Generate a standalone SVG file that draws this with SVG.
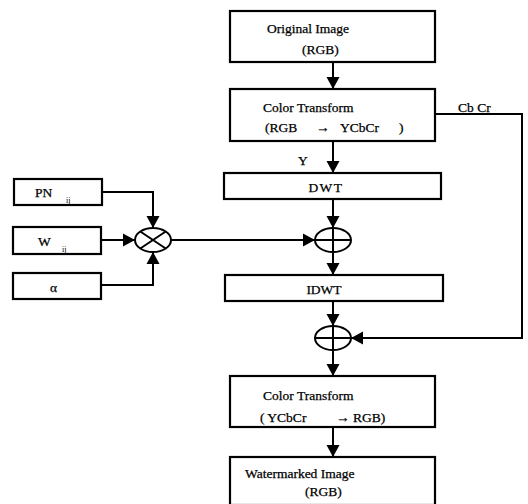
<svg xmlns="http://www.w3.org/2000/svg" width="528" height="504" viewBox="0 0 528 504">
<style>
.box{fill:#fff;stroke:#000;stroke-width:2.2}
.ln{fill:none;stroke:#000;stroke-width:2}
.op{fill:#fff;stroke:#000;stroke-width:2}
.t{font-family:"Liberation Serif","Times New Roman",serif;font-size:13.5px;fill:#000;stroke:#000;stroke-width:0.25}
.sub{font-family:"Liberation Serif","Times New Roman",serif;font-size:8px;fill:#000}
</style>
<defs>
<marker id="ah" markerWidth="14" markerHeight="14" refX="12" refY="7" orient="auto" markerUnits="userSpaceOnUse">
<path d="M0,0.5 L12,7 L0,13.5 z" fill="#000"/>
</marker>
</defs>
<rect width="528" height="504" fill="#fff"/>
<g id="connectors">
<path class="ln" d="M333,62 V89" marker-end="url(#ah)"/>
<path class="ln" d="M333,141 V173" marker-end="url(#ah)"/>
<path class="ln" d="M333,199 V228" marker-end="url(#ah)"/>
<path class="ln" d="M333,252 V275" marker-end="url(#ah)"/>
<path class="ln" d="M333,301 V326" marker-end="url(#ah)"/>
<path class="ln" d="M333,350 V376" marker-end="url(#ah)"/>
<path class="ln" d="M333,427 V457" marker-end="url(#ah)"/>
<path class="ln" d="M435,114 H522 V338 H351" marker-end="url(#ah)"/>
<path class="ln" d="M102,192 H153 V228" marker-end="url(#ah)"/>
<path class="ln" d="M101,240 H135" marker-end="url(#ah)"/>
<path class="ln" d="M101,285 H153 V252" marker-end="url(#ah)"/>
<path class="ln" d="M171,240 H315" marker-end="url(#ah)"/>
<text class="t" x="458" y="112">Cb Cr</text>
<text class="t" x="298" y="165">Y</text>
</g>
<g id="original">
<rect class="box" x="230" y="11" width="205" height="51"/>
<text class="t" x="267" y="33">Original  Image</text>
<text class="t" x="302" y="54">(RGB)</text>
</g>
<g id="ct1">
<rect class="box" x="230" y="89" width="205" height="52"/>
<text class="t" x="263" y="112">Color Transform</text>
<text class="t" x="265" y="132">(RGB</text>
<text class="t" x="316" y="132">→</text>
<text class="t" x="340" y="132">YCbCr</text>
<text class="t" x="399" y="132">)</text>
</g>
<g id="dwt">
<rect class="box" x="224" y="173" width="217" height="26"/>
<text class="t" x="326" y="192" text-anchor="middle" letter-spacing="1.5">DWT</text>
</g>
<g id="sum1">
<ellipse class="op" cx="333" cy="240" rx="18" ry="12"/>
<path class="ln" d="M315,240 H351 M333,228 V252"/>
</g>
<g id="idwt">
<rect class="box" x="225" y="275" width="218" height="26"/>
<text class="t" x="324" y="294" text-anchor="middle">IDWT</text>
</g>
<g id="sum2">
<ellipse class="op" cx="333" cy="338" rx="18" ry="12"/>
<path class="ln" d="M315,338 H351 M333,326 V350"/>
</g>
<g id="ct2">
<rect class="box" x="230" y="376" width="205" height="51"/>
<text class="t" x="263" y="400">Color Transform</text>
<text class="t" x="260" y="422">( YCbCr</text>
<text class="t" x="336" y="422">→</text>
<text class="t" x="353" y="422">RGB)</text>
</g>
<g id="watermarked">
<rect class="box" x="230" y="457" width="205" height="48"/>
<text class="t" x="245" y="478">Watermarked  Image</text>
<text class="t" x="305" y="496">(RGB)</text>
</g>
<g id="pn">
<rect class="box" x="14" y="179" width="88" height="26"/>
<text class="t" x="35" y="197">PN</text>
<text class="sub" x="66" y="203">ij</text>
</g>
<g id="w">
<rect class="box" x="13" y="227" width="88" height="27"/>
<text class="t" x="38" y="246">W</text>
<text class="sub" x="62" y="252">ij</text>
</g>
<g id="alpha">
<rect class="box" x="13" y="273" width="88" height="26"/>
<text class="t" x="50" y="292">α</text>
</g>
<g id="mult">
<ellipse class="op" cx="153" cy="240" rx="18" ry="12"/>
<path class="ln" d="M140.3,231.5 L165.7,248.5 M140.3,248.5 L165.7,231.5"/>
</g>
</svg>
